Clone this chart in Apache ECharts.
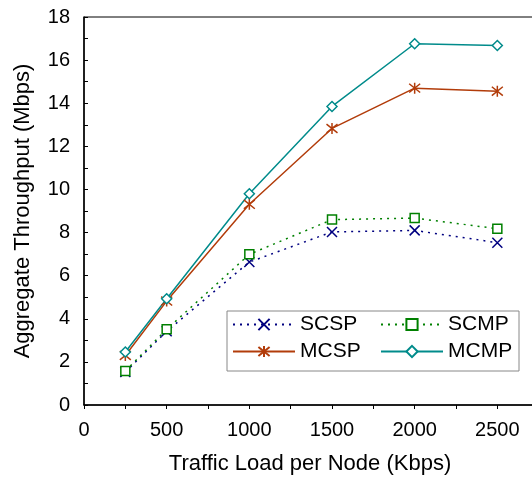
<!DOCTYPE html>
<html>
<head>
<meta charset="utf-8">
<script src="https://cdn.jsdelivr.net/npm/echarts@6/dist/echarts.min.js"></script>
<style>
  html, body { margin: 0; padding: 0; background: #fff; }
  #chart { width: 532px; height: 479px; }
</style>
</head>
<body>
<div id="chart"></div>
<script>
// traffic load per node (Kbps)
var loads = [250, 500, 1000, 1500, 2000, 2500];
// aggregate throughput (Mbps)
var scsp = [1.53, 3.42, 6.63, 8.03, 8.1, 7.53];
var scmp = [1.58, 3.51, 6.99, 8.6, 8.67, 8.18];
var mcsp = [2.3, 4.82, 9.31, 12.83, 14.7, 14.56];
var mcmp = [2.46, 4.93, 9.8, 13.85, 16.76, 16.68];

var font = 'Liberation Sans, Arial, sans-serif';

function pairs(ys) {
    return loads.map(function (x, i) { return [x, ys[i]]; });
}

function line(name, ys, color, dotted, symbol, size) {
    return {
        name: name,
        type: 'line',
        data: pairs(ys),
        symbol: symbol,
        symbolSize: size,
        lineStyle: { color: color, width: 1.5, type: dotted ? [2, 5] : 'solid' },
        itemStyle: { color: '#fff', borderColor: color, borderWidth: 1.5 },
        emphasis: { disabled: true },
        z: 3
    };
}

var crossPath = 'path://M0,0L10,10M10,0L0,10';
var starPath = 'path://M5,0L5,10M0,1L10,9M10,1L0,9';

var chart = echarts.init(document.getElementById('chart'));
chart.setOption({
    animation: false,
    textStyle: { fontFamily: font },
    grid: {
        left: 84, top: 17, bottom: 74, width: 496,
        containLabel: false, outerBoundsMode: 'none',
        show: true, borderColor: '#000', borderWidth: 1
    },
    xAxis: {
        type: 'value', min: 0, max: 3000, interval: 500,
        name: 'Traffic Load per Node (Kbps)',
        nameLocation: 'middle', nameGap: 48,
        nameTextStyle: { fontSize: 22, color: '#000', fontFamily: font, padding: [0, 44, 0, 0] },
        axisLine: { lineStyle: { color: '#000', width: 1.5 } },
        axisTick: { show: true, inside: false, length: 4, lineStyle: { color: '#000' } },
        minorTick: { show: true, splitNumber: 2, length: 4, lineStyle: { color: '#000' } },
        axisLabel: {
            fontSize: 20, color: '#000', margin: 15,
            formatter: function (v) { return v > 2500 ? '' : String(v); }
        },
        splitLine: { show: false }
    },
    yAxis: {
        type: 'value', min: 0, max: 18, interval: 2,
        name: 'Aggregate Throughput (Mbps)',
        nameLocation: 'middle', nameGap: 50,
        nameTextStyle: { fontSize: 22, color: '#000', fontFamily: font },
        axisLine: { lineStyle: { color: '#000', width: 1.5 } },
        axisTick: { show: true, inside: true, length: 4, lineStyle: { color: '#000' } },
        minorTick: { show: true, splitNumber: 2, length: 4, lineStyle: { color: '#000' } },
        axisLabel: { fontSize: 20, color: '#000', margin: 14 },
        splitLine: { show: false }
    },
    legend: [{
        data: ['SCSP', 'MCSP'],
        orient: 'vertical', left: 232, top: 314,
        itemWidth: 62, itemHeight: 14, itemGap: 6,
        textStyle: { fontSize: 21, color: '#000', fontFamily: font },
        padding: 0
    }, {
        data: ['SCMP', 'MCMP'],
        orient: 'vertical', left: 380, top: 314,
        itemWidth: 62, itemHeight: 14, itemGap: 6,
        textStyle: { fontSize: 21, color: '#000', fontFamily: font },
        padding: 0
    }],
    graphic: [{
        type: 'rect',
        shape: { x: 227, y: 311, width: 292, height: 60 },
        style: { fill: 'none', stroke: '#888', lineWidth: 1 },
        z: 10
    }],
    series: [
        line('SCSP', scsp, '#000080', true, crossPath, 10),
        line('SCMP', scmp, '#008000', true, 'rect', 9),
        line('MCSP', mcsp, '#B23C0A', false, starPath, 11),
        line('MCMP', mcmp, '#008B8B', false, 'diamond', 10)
    ]
});
</script>
</body>
</html>
